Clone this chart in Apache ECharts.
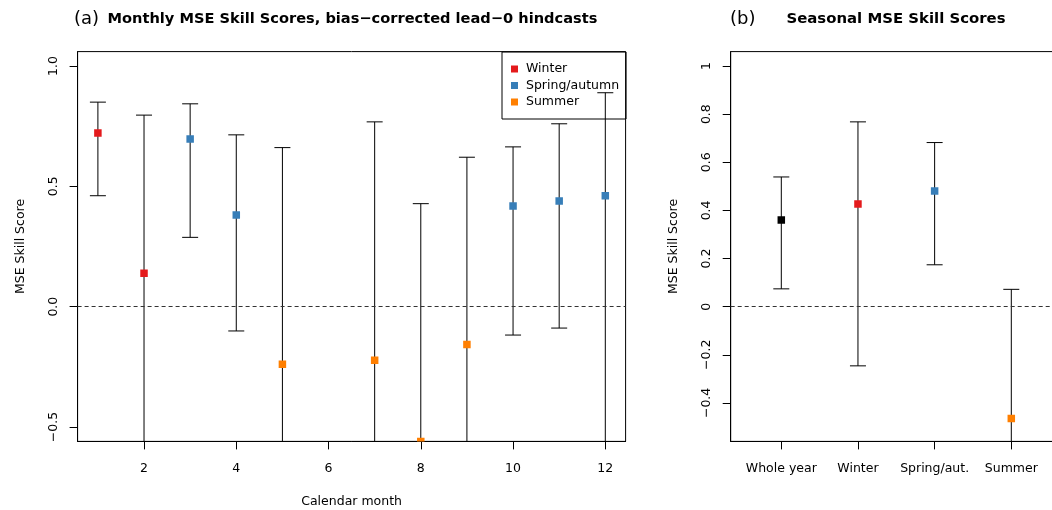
<!DOCTYPE html>
<html>
<head>
<meta charset="utf-8">
<script src="https://cdn.jsdelivr.net/npm/echarts@6/dist/echarts.min.js"></script>
<style>
html,body{margin:0;padding:0;background:#fff;}
#chart{width:1052px;height:510px;}
</style>
</head>
<body>
<div id="chart"></div>
<script>
// ---------- data ----------
const months = [1, 2, 3, 4, 5, 6, 7, 8, 9, 10, 11, 12];
const monthSeason = ['Winter', 'Winter', 'Spring/autumn', 'Spring/autumn', 'Summer', 'Summer',
                     'Summer', 'Summer', 'Summer', 'Spring/autumn', 'Spring/autumn', 'Spring/autumn'];
const monthScore = [0.722, 0.139, 0.697, 0.381, -0.239, null, -0.223, -0.56, -0.157, 0.418, 0.439, 0.461];
const monthUpper = [0.850, 0.796, 0.843, 0.714, 0.661, null, 0.768, 0.428, 0.621, 0.664, 0.760, 0.889];
// null = lower limit lies below the plotted range
const monthLower = [0.461, null, 0.288, -0.101, null, null, null, null, null, -0.118, -0.089, null];
const monthTicks = [2, 4, 6, 8, 10, 12];

const seasonNames = ['Winter', 'Spring/autumn', 'Summer'];

const seasonCats = ['Whole year', 'Winter', 'Spring/aut.', 'Summer'];
const seasonKeys = ['Whole year', 'Winter', 'Spring/autumn', 'Summer'];
const seasonScore = [0.360, 0.427, 0.481, -0.465];
const seasonUpper = [0.539, 0.768, 0.682, 0.072];
const seasonLower = [0.074, -0.246, 0.174, null];

const yTicksA = [-0.5, 0, 0.5, 1];
const yTickLabelsA = ['\u22120.5', '0.0', '0.5', '1.0'];
const yTicksB = [-0.4, -0.2, 0, 0.2, 0.4, 0.6, 0.8, 1];
const yTickLabelsB = ['\u22120.4', '\u22120.2', '0', '0.2', '0.4', '0.6', '0.8', '1'];

// ---------- styles ----------
const palette = {
  'Whole year': '#000000',
  'Winter': '#E41A1C',
  'Spring/autumn': '#377EB8',
  'Summer': '#FF7F00'
};
const FONT = 'DejaVu Sans';
const LABEL_SIZE = 12.5;
const Y_MIN = -0.56, Y_MAX = 1.06;

// ---------- helpers ----------
function errorBarData(xs, up, lo) {
  const out = [];
  xs.forEach((x, i) => {
    if (up[i] === null) return;
    const clipped = lo[i] === null ? 1 : 0;
    out.push([x, up[i], clipped ? Y_MIN : lo[i], clipped]);
  });
  return out;
}
function renderErrorBar(params, api) {
  const x = api.value(0);
  const top = api.coord([x, api.value(1)]);
  const bot = api.coord([x, api.value(2)]);
  const clipped = api.value(3);
  const cap = 8;
  const st = { stroke: '#000', lineWidth: 1, fill: null };
  const children = [
    { type: 'line', shape: { x1: top[0], y1: top[1], x2: bot[0], y2: bot[1] }, style: st },
    { type: 'line', shape: { x1: top[0] - cap, y1: top[1], x2: top[0] + cap, y2: top[1] }, style: st }
  ];
  if (!clipped) {
    children.push({ type: 'line', shape: { x1: bot[0] - cap, y1: bot[1], x2: bot[0] + cap, y2: bot[1] }, style: st });
  }
  return { type: 'group', children: children };
}
function renderSquare(params, api) {
  const p = api.coord([api.value(0), api.value(1)]);
  const s = 7.5;
  return {
    type: 'rect',
    shape: { x: p[0] - s / 2, y: p[1] - s / 2, width: s, height: s },
    style: { fill: api.visual('color') }
  };
}

const zeroLine = {
  symbol: 'none', silent: true, animation: false,
  label: { show: false },
  lineStyle: { type: [4, 3], color: '#333', width: 1 },
  data: [{ yAxis: 0 }]
};

// ---------- series ----------
const series = [];
series.push({
  type: 'custom', name: 'barsA', xAxisIndex: 0, yAxisIndex: 0, clip: true, z: 2,
  renderItem: renderErrorBar, data: errorBarData(months, monthUpper, monthLower),
  markLine: zeroLine
});
seasonNames.forEach(sn => {
  const d = [];
  months.forEach((m, i) => { if (monthSeason[i] === sn && monthScore[i] !== null) d.push([m, monthScore[i]]); });
  series.push({
    type: 'custom', name: sn, xAxisIndex: 0, yAxisIndex: 0, clip: true, z: 3,
    itemStyle: { color: palette[sn] },
    renderItem: renderSquare, data: d
  });
});
const seasonX = seasonCats.map((c, i) => i + 1);
series.push({
  type: 'custom', name: 'barsB', xAxisIndex: 1, yAxisIndex: 1, clip: true, z: 2,
  renderItem: renderErrorBar, data: errorBarData(seasonX, seasonUpper, seasonLower),
  markLine: zeroLine
});
series.push({
  type: 'custom', name: 'pointsB', xAxisIndex: 1, yAxisIndex: 1, clip: true, z: 3,
  renderItem: renderSquare,
  data: seasonX.map((x, i) => ({ value: [x, seasonScore[i]], itemStyle: { color: palette[seasonKeys[i]] } }))
});

// ---------- axes ----------
const tickStyle = { show: true, length: 8, lineStyle: { color: '#000', width: 1 } };
const lineStyle = { show: true, onZero: false, lineStyle: { color: '#000', width: 1 } };
const labelStyle = { color: '#000', fontFamily: FONT, fontSize: LABEL_SIZE };

function yAxis(gridIndex, ticks, labels) {
  return {
    type: 'value', gridIndex: gridIndex, min: Y_MIN, max: Y_MAX,
    name: 'MSE Skill Score', nameLocation: 'middle', nameGap: 50,
    nameTextStyle: { color: '#000', fontFamily: FONT, fontSize: LABEL_SIZE },
    splitLine: { show: false },
    axisLine: lineStyle,
    axisTick: Object.assign({ customValues: ticks }, tickStyle),
    axisLabel: Object.assign({
      customValues: ticks, rotate: 90, margin: 17,
      formatter: v => { const k = ticks.findIndex(t => Math.abs(t - v) < 1e-9); return k >= 0 ? labels[k] : ''; }
    }, labelStyle)
  };
}

const option = {
  animation: false,
  backgroundColor: '#fff',
  textStyle: { fontFamily: FONT },
  title: [
    { text: '(a)', left: 74, top: 10, padding: 0, textStyle: { fontFamily: FONT, fontSize: 18, fontWeight: 'normal', color: '#000' } },
    { text: 'Monthly MSE Skill Scores, bias\u2212corrected lead\u22120 hindcasts', left: 107.5, top: 12, padding: 0,
      textStyle: { fontFamily: FONT, fontSize: 14.6, fontWeight: 'bold', color: '#000' } },
    { text: '(b)', left: 730, top: 10, padding: 0, textStyle: { fontFamily: FONT, fontSize: 18, fontWeight: 'normal', color: '#000' } },
    { text: 'Seasonal MSE Skill Scores', left: 786.5, top: 12, padding: 0,
      textStyle: { fontFamily: FONT, fontSize: 14.9, fontWeight: 'bold', color: '#000' } }
  ],
  legend: {
    data: seasonNames,
    orient: 'vertical',
    left: 502, top: 52,
    padding: [9, 7, 9, 9],
    itemGap: 0.5,
    itemWidth: 7, itemHeight: 7,
    icon: 'rect',
    borderColor: '#000', borderWidth: 1, borderRadius: 0,
    selectedMode: false,
    textStyle: { fontFamily: FONT, fontSize: LABEL_SIZE, color: '#000', lineHeight: 16, padding: [0, 0, 0, 3] }
  },
  grid: [
    { left: 77.6, top: 51.6, width: 548, height: 389.8, show: true, borderColor: '#000', borderWidth: 1,
      backgroundColor: 'transparent', containLabel: false, outerBoundsMode: 'none' },
    { left: 730.7, top: 51.6, width: 331.2, height: 389.8, show: true, borderColor: '#000', borderWidth: 1,
      backgroundColor: 'transparent', containLabel: false, outerBoundsMode: 'none' }
  ],
  xAxis: [
    {
      type: 'value', gridIndex: 0, min: 0.56, max: 12.44,
      name: 'Calendar month', nameLocation: 'middle', nameGap: 54,
      nameTextStyle: { color: '#000', fontFamily: FONT, fontSize: LABEL_SIZE },
      splitLine: { show: false },
      axisLine: lineStyle,
      axisTick: Object.assign({ customValues: monthTicks }, tickStyle),
      axisLabel: Object.assign({ customValues: monthTicks, margin: 20.5, formatter: v => String(Math.round(v)) }, labelStyle)
    },
    {
      type: 'value', gridIndex: 1, min: 0.34, max: 4.66,
      splitLine: { show: false },
      axisLine: lineStyle,
      axisTick: Object.assign({ customValues: seasonX }, tickStyle),
      axisLabel: Object.assign({ customValues: seasonX, margin: 20.5,
        formatter: v => { const k = Math.round(v) - 1; return seasonCats[k] || ''; } }, labelStyle)
    }
  ],
  yAxis: [yAxis(0, yTicksA, yTickLabelsA), yAxis(1, yTicksB, yTickLabelsB)],
  series: series
};

const chart = echarts.init(document.getElementById('chart'), null, { renderer: 'canvas' });
chart.setOption(option);
</script>
</body>
</html>
